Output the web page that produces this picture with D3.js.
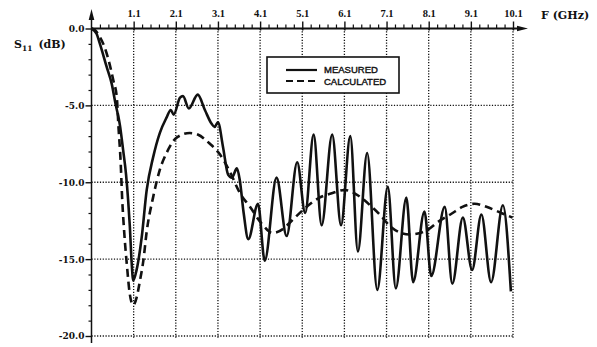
<!DOCTYPE html>
<html lang="en">
<head>
<meta charset="UTF-8">
<title>S11 vs frequency</title>
<script src="https://cdn.jsdelivr.net/npm/d3@7"></script>
<style>
body { margin: 0; background: #fff; }
svg { display: block; }
.xlab { font-family: "Liberation Serif", serif; font-weight: bold; font-size: 10.5px; fill: #111; }
.ylab { font-family: "DejaVu Serif", serif; font-weight: bold; font-size: 9px; fill: #111; }
.title { font-family: "DejaVu Serif", serif; font-weight: bold; font-size: 11px; fill: #111; }
.leg { font-family: "Liberation Sans", sans-serif; font-size: 9.5px; fill: #111; stroke: #111; stroke-width: 0.4; }
</style>
</head>
<body>
<svg id="canvas"></svg>
<script>
// tick labels
let xTicks = [1.1, 2.1, 3.1, 4.1, 5.1, 6.1, 7.1, 8.1, 9.1, 10.1]
let yTicks = [0, -5, -10, -15, -20]

// measured S11 (solid)
let measFreq = [0.1, 0.22, 0.30, 0.46, 0.58, 0.67, 0.775, 0.85, 0.92, 0.97, 1.01, 1.05, 1.09, 1.17, 1.29,
  1.41, 1.56, 1.72, 1.88, 1.98, 2.05, 2.2, 2.27, 2.41, 2.62, 2.79, 2.95, 3.02, 3.1, 3.22, 3.34, 3.43,
  3.55, 3.62, 3.71, 3.82, 4.05, 4.21, 4.49, 4.73, 4.98, 5.17, 5.37, 5.56, 5.81, 6.02, 6.24, 6.42,
  6.64, 6.88, 7.13, 7.32, 7.57, 7.73, 8.0, 8.16, 8.48, 8.66, 8.91, 9.13, 9.35, 9.58, 9.86, 10.05]
let measDb = [0, -0.34, -1.0, -2.5, -3.6, -4.9, -6.3, -7.9, -9.5, -11.2, -12.9, -15.1, -16.4, -15.7, -13.6,
  -10.5, -8.4, -6.8, -5.8, -5.3, -5.6, -4.5, -4.4, -5.2, -4.3, -5.3, -6.2, -6.4, -6.1, -7.7, -9.5, -9.7,
  -9.1, -9.9, -12.0, -13.7, -11.4, -15.1, -9.7, -13.5, -8.7, -12.0, -6.9, -12.8, -6.9, -12.8, -7.0, -14.5,
  -8.1, -17.0, -10.3, -16.9, -11.0, -16.5, -11.9, -16.1, -11.6, -16.6, -12.3, -15.7, -12.1, -16.5, -11.5, -17.1]

// calculated S11 (dashed)
let calcFreq = [0.1, 0.18, 0.3, 0.38, 0.5, 0.62, 0.7, 0.74, 0.79, 0.83, 0.88, 0.94, 1.01, 1.09, 1.17, 1.25,
  1.33, 1.41, 1.56, 1.72, 1.88, 2.12, 2.43, 2.62, 2.91, 3.15, 3.38, 3.62, 3.86, 4.14, 4.40, 4.64, 4.85,
  5.14, 5.51, 5.82, 6.11, 6.39, 6.75, 6.94, 7.2, 7.65, 8.07, 8.31, 8.64, 8.9, 9.19, 9.47, 9.82, 10.09]
let calcDb = [0, -0.1, -0.56, -1.0, -2.0, -3.4, -4.46, -6.4, -8.6, -11.2, -13.4, -15.4, -17.3, -18.0, -17.5, -16.4,
  -15.1, -13.2, -11.0, -9.2, -8.1, -7.1, -6.8, -6.9, -7.5, -8.2, -9.3, -10.7, -11.6, -12.7, -13.3, -13.05, -12.5,
  -11.75, -11.0, -10.7, -10.5, -10.8, -11.6, -12.1, -12.9, -13.4, -13.1, -12.6, -12.05, -11.6, -11.4, -11.6, -12.0, -12.3]

let width = 597
let height = 347
let ink = '#111'

let svg = d3.select('svg').attr('width', width).attr('height', height)

let x = d3.scaleLinear().domain([0.1, 10.1]).range([91.5, 513])
let y = d3.scaleLinear().domain([0, -20]).range([28.5, 336])

let xMinor = d3.range(0.3, 10.1, 0.2).filter(v => !xTicks.some(t => Math.abs(t - v) < 1e-6))
let yMinor = d3.range(-1, -20, -1).filter(v => v % 5 !== 0)

// dotted grid
let grid = svg.append('g').attr('stroke', ink).attr('stroke-width', 1.3).attr('stroke-dasharray', '1.2,1.6')
grid.selectAll('.gv').data(xTicks).enter().append('line')
  .attr('x1', d => x(d)).attr('x2', d => x(d)).attr('y1', y(0)).attr('y2', y(-20) + 2)
grid.selectAll('.gh').data(yTicks.slice(1)).enter().append('line')
  .attr('x1', x(0.1)).attr('x2', x(10.1)).attr('y1', d => y(d)).attr('y2', d => y(d))

// x axis (top)
let xAxis = svg.append('g').attr('transform', 'translate(0,' + y(0) + ')')
  .call(d3.axisTop(x).tickValues(xTicks).tickFormat(d => d.toFixed(1)).tickSize(7).tickPadding(4))
xAxis.select('.domain').remove()
xAxis.selectAll('.tick line').attr('y1', 2).attr('stroke', ink).attr('stroke-width', 1.4)
xAxis.selectAll('.tick text').attr('class', 'xlab').attr('y', -11.5).attr('font-size', null).attr('font-family', null)

let xMin = svg.append('g').attr('transform', 'translate(0,' + y(0) + ')')
  .call(d3.axisTop(x).tickValues(xMinor).tickFormat('').tickSize(4))
xMin.select('.domain').remove()
xMin.selectAll('.tick line').attr('stroke', ink).attr('stroke-width', 1.2)

// y axis (left)
let yAxis = svg.append('g').attr('transform', 'translate(' + x(0.1) + ',0)')
  .call(d3.axisLeft(y).tickValues(yTicks).tickFormat(d => d.toFixed(1)).tickSize(6).tickPadding(1))
yAxis.select('.domain').remove()
yAxis.selectAll('.tick line').attr('stroke', ink).attr('stroke-width', 1.4)
yAxis.selectAll('.tick text').attr('class', 'ylab').attr('font-size', null).attr('font-family', null)

let yMin = svg.append('g').attr('transform', 'translate(' + x(0.1) + ',0)')
  .call(d3.axisLeft(y).tickValues(yMinor).tickFormat('').tickSize(3))
yMin.select('.domain').remove()
yMin.selectAll('.tick line').attr('stroke', ink).attr('stroke-width', 1.2)

// axis lines with arrows
svg.append('line').attr('x1', x(0.1)).attr('x2', 520).attr('y1', y(0)).attr('y2', y(0))
  .attr('stroke', ink).attr('stroke-width', 2)
svg.append('path').attr('d', 'M528,' + y(0) + 'L517,' + (y(0) - 2.8) + 'L517,' + (y(0) + 2.8) + 'Z').attr('fill', ink)
svg.append('line').attr('x1', x(0.1)).attr('x2', x(0.1)).attr('y1', 18).attr('y2', 343)
  .attr('stroke', ink).attr('stroke-width', 1.5)
svg.append('path').attr('d', 'M' + x(0.1) + ',9L' + (x(0.1) - 2.8) + ',20L' + (x(0.1) + 2.8) + ',20Z').attr('fill', ink)

// axis titles
svg.append('text').attr('class', 'title').attr('x', 541).attr('y', 19).text('F (GHz)')
let st = svg.append('text').attr('class', 'title').attr('x', 14).attr('y', 48)
st.append('tspan').text('S')
st.append('tspan').attr('dy', 3).attr('font-size', '7.5px').text('11')
st.append('tspan').attr('dy', -3).attr('dx', 6).text('(dB)')

// curves
let meas = measFreq.map((f, i) => [f, measDb[i]])
let calc = calcFreq.map((f, i) => [f, calcDb[i]])
let line = d3.line().x(d => x(d[0])).y(d => y(d[1])).curve(d3.curveMonotoneX)

svg.append('path').datum(calc).attr('d', line)
  .attr('fill', 'none').attr('stroke', ink).attr('stroke-width', 2.6).attr('stroke-dasharray', '8,5')
svg.append('path').datum(meas).attr('d', line)
  .attr('fill', 'none').attr('stroke', ink).attr('stroke-width', 2.6).attr('stroke-linejoin', 'round')

// legend
let leg = svg.append('g')
leg.append('rect').attr('x', 267).attr('y', 57).attr('width', 132).attr('height', 36)
  .attr('fill', '#fff').attr('stroke', ink).attr('stroke-width', 1.6)
leg.append('line').attr('x1', 286).attr('x2', 317).attr('y1', 70).attr('y2', 70)
  .attr('stroke', ink).attr('stroke-width', 2.2)
leg.append('line').attr('x1', 286).attr('x2', 317).attr('y1', 81).attr('y2', 81)
  .attr('stroke', ink).attr('stroke-width', 2.2).attr('stroke-dasharray', '7,4')
leg.append('text').attr('class', 'leg').attr('x', 324).attr('y', 73).text('MEASURED')
leg.append('text').attr('class', 'leg').attr('x', 324).attr('y', 84.5).text('CALCULATED')
</script>
</body>
</html>
